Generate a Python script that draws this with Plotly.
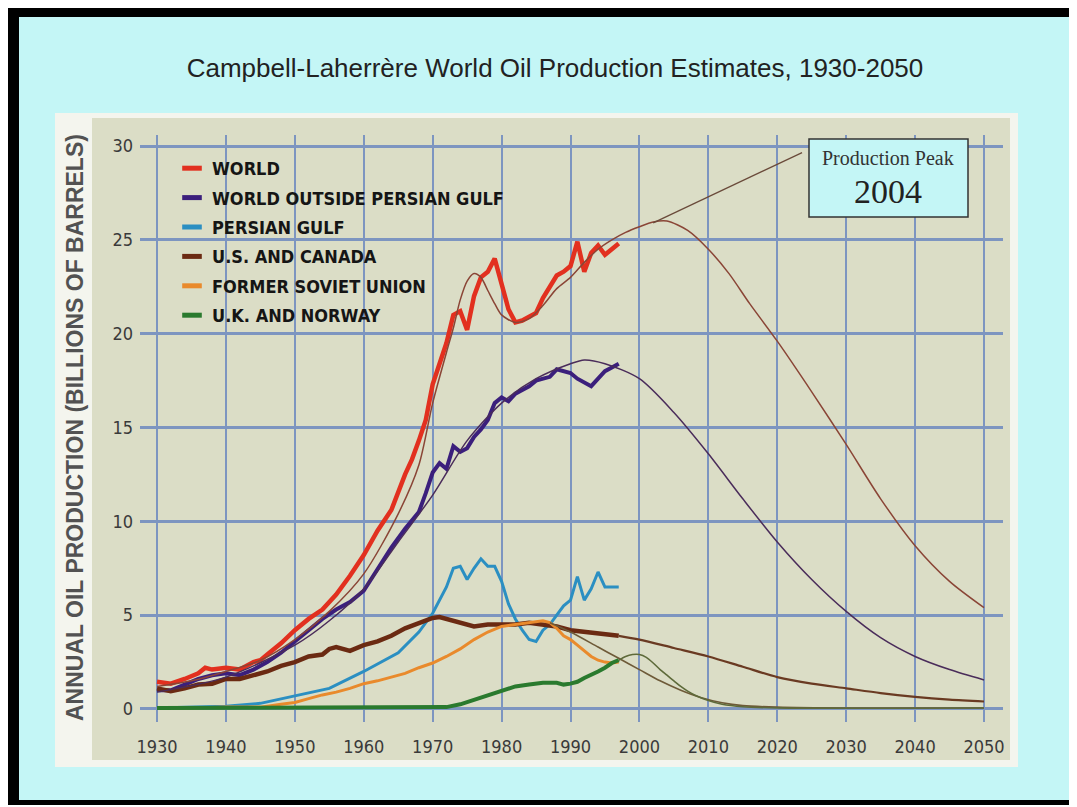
import plotly.graph_objects as go

world_years = [1930, 1932, 1934, 1936, 1937, 1938, 1940, 1942, 1944, 1945, 1946, 1948, 1950, 1952, 1954, 1956,
               1958, 1960, 1962, 1964, 1966, 1967, 1968, 1969, 1970, 1971, 1972, 1973, 1974, 1975, 1976, 1977,
               1978, 1979, 1980, 1981, 1982, 1983, 1984, 1985, 1986, 1987, 1988, 1989, 1990, 1991, 1992, 1993,
               1994, 1995, 1996, 1997]
world_vals = [1.45, 1.35, 1.6, 1.9, 2.2, 2.1, 2.2, 2.1, 2.5, 2.6, 2.9, 3.5, 4.2, 4.8, 5.3, 6.1,
              7.1, 8.2, 9.5, 10.6, 12.5, 13.3, 14.3, 15.4, 17.3, 18.4, 19.5, 21.0, 21.2, 20.2, 22.0, 23.0,
              23.3, 24.0, 22.7, 21.3, 20.6, 20.7, 20.9, 21.1, 21.9, 22.5, 23.1, 23.3, 23.6, 24.9, 23.3, 24.3,
              24.7, 24.2, 24.5, 24.8]

wopg_years = [1930, 1932, 1934, 1936, 1938, 1940, 1942, 1944, 1946, 1948, 1950, 1952, 1954, 1956, 1958, 1960,
              1962, 1964, 1966, 1968, 1969, 1970, 1971, 1972, 1973, 1974, 1975, 1976, 1977, 1978, 1979, 1980,
              1981, 1982, 1983, 1984, 1985, 1986, 1987, 1988, 1989, 1990, 1991, 1992, 1993, 1994, 1995, 1996, 1997]
wopg_vals = [1.0, 1.0, 1.3, 1.6, 1.8, 1.9, 1.8, 2.1, 2.5, 3.0, 3.6, 4.2, 4.8, 5.3, 5.7, 6.3,
             7.5, 8.6, 9.6, 10.5, 11.5, 12.6, 13.1, 12.8, 14.0, 13.7, 13.9, 14.5, 14.9, 15.4, 16.3, 16.6,
             16.4, 16.8, 17.0, 17.2, 17.5, 17.6, 17.7, 18.1, 18.0, 17.9, 17.6, 17.4, 17.2, 17.6, 18.0, 18.2, 18.4]

pg_years = [1930, 1935, 1940, 1945, 1950, 1955, 1960, 1965, 1968, 1970, 1972, 1973, 1974, 1975, 1976, 1977,
            1978, 1979, 1980, 1981, 1982, 1983, 1984, 1985, 1986, 1987, 1988, 1989, 1990, 1991, 1992, 1993,
            1994, 1995, 1996, 1997]
pg_vals = [0.05, 0.1, 0.15, 0.3, 0.7, 1.1, 2.0, 3.0, 4.1, 5.1, 6.5, 7.5, 7.6, 6.9, 7.5, 8.0,
           7.6, 7.6, 6.8, 5.6, 4.8, 4.2, 3.7, 3.6, 4.2, 4.5, 5.0, 5.5, 5.8, 7.05, 5.8, 6.4,
           7.3, 6.5, 6.5, 6.5]

usc_years = [1930, 1932, 1934, 1936, 1938, 1940, 1942, 1944, 1946, 1948, 1950, 1952, 1954, 1955, 1956, 1958,
             1960, 1962, 1964, 1966, 1968, 1970, 1971, 1972, 1974, 1976, 1978, 1980, 1982, 1984, 1986, 1988,
             1990, 1992, 1994, 1996, 1997]
usc_vals = [1.1, 0.95, 1.1, 1.3, 1.35, 1.6, 1.6, 1.8, 2.0, 2.3, 2.5, 2.8, 2.9, 3.2, 3.3, 3.1,
            3.4, 3.6, 3.9, 4.3, 4.6, 4.85, 4.9, 4.8, 4.6, 4.4, 4.5, 4.5, 4.5, 4.6, 4.5, 4.4,
            4.2, 4.1, 4.05, 3.95, 3.9]

fsu_years = [1930, 1935, 1940, 1945, 1948, 1950, 1952, 1954, 1956, 1958, 1960, 1962, 1964, 1966, 1968, 1970,
             1972, 1974, 1976, 1978, 1980, 1982, 1984, 1986, 1987, 1988, 1989, 1990, 1991, 1992, 1993, 1994,
             1995, 1996, 1997]
fsu_vals = [0.05, 0.05, 0.1, 0.1, 0.25, 0.35, 0.55, 0.75, 0.9, 1.1, 1.35, 1.5, 1.7, 1.9, 2.2, 2.45,
            2.8, 3.2, 3.7, 4.1, 4.4, 4.5, 4.6, 4.7, 4.6, 4.3, 3.9, 3.7, 3.4, 3.1, 2.8, 2.6,
            2.5, 2.45, 2.5]

ukn_years = [1930, 1940, 1950, 1960, 1970, 1972, 1974, 1976, 1978, 1980, 1982, 1984, 1986, 1988, 1989, 1990,
             1991, 1992, 1993, 1994, 1995, 1996, 1997]
ukn_vals = [0.05, 0.05, 0.05, 0.05, 0.05, 0.1, 0.25, 0.5, 0.75, 1.0, 1.2, 1.3, 1.4, 1.4, 1.3, 1.35,
            1.45, 1.65, 1.8, 2.0, 2.2, 2.45, 2.6]

# Campbell-Laherrere fitted / forecast curves
world_fit_years = [1930, 1935, 1940, 1945, 1950, 1955, 1960, 1965, 1968, 1970, 1972, 1973, 1974, 1975, 1976,
                   1977, 1978, 1979, 1980, 1982, 1984, 1986, 1988, 1990, 1992, 1994, 1996, 1998, 2000, 2002,
                   2004, 2007, 2010, 2013, 2016, 2020, 2025, 2030, 2035, 2040, 2045, 2050]
world_fit_vals = [1.2, 1.5, 2.0, 2.6, 3.7, 5.2, 7.2, 10.4, 13.0, 16.3, 19.0, 20.3, 21.8, 22.8, 23.2,
                  23.0, 22.3, 21.6, 21.0, 20.6, 20.8, 21.5, 22.4, 23.0, 23.8, 24.5, 25.0, 25.4, 25.7, 25.95,
                  26.0, 25.5, 24.5, 23.2, 21.6, 19.6, 16.9, 14.1, 11.2, 8.7, 6.8, 5.4]

wopg_fit_years = [1930, 1940, 1950, 1955, 1960, 1965, 1970, 1975, 1980, 1985, 1990, 1992, 1995, 2000, 2005,
                  2010, 2015, 2020, 2025, 2030, 2035, 2040, 2045, 2050]
wopg_fit_vals = [0.9, 1.7, 3.4, 4.7, 6.4, 8.9, 11.4, 14.3, 16.3, 17.6, 18.4, 18.6, 18.4, 17.6, 15.8,
                 13.6, 11.2, 8.9, 6.9, 5.2, 3.8, 2.8, 2.1, 1.55]

usc_fit_years = [1997, 2000, 2005, 2010, 2015, 2020, 2025, 2030, 2035, 2040, 2045, 2050]
usc_fit_vals = [3.9, 3.7, 3.25, 2.8, 2.25, 1.7, 1.35, 1.1, 0.85, 0.65, 0.5, 0.4]

fsu_fit_years = [1987, 1990, 1994, 1997, 2000, 2003, 2006, 2009, 2012, 2015, 2020, 2030, 2050]
fsu_fit_vals = [4.6, 4.1, 3.3, 2.7, 2.1, 1.5, 1.0, 0.6, 0.33, 0.18, 0.1, 0.05, 0.05]

ukn_fit_years = [1997, 1998, 1999, 2000, 2001, 2002, 2003, 2004, 2005, 2006, 2007, 2008, 2010, 2012, 2015,
                 2020, 2050]
ukn_fit_vals = [2.6, 2.8, 2.9, 2.9, 2.75, 2.45, 2.1, 1.8, 1.5, 1.2, 0.95, 0.75, 0.45, 0.25, 0.12,
                0.06, 0.05]

peak_line_years = [2002, 2023.6]
peak_line_vals = [25.9, 29.65]

legend_names = ['WORLD', 'WORLD OUTSIDE PERSIAN GULF', 'PERSIAN GULF', 'U.S. AND CANADA',
                'FORMER SOVIET UNION', 'U.K. AND NORWAY']
colors = ['#e2301f', '#3b1f7c', '#2b8fc2', '#6b2a12', '#e98a2c', '#2a7a2e']

x_ticks = [1930, 1940, 1950, 1960, 1970, 1980, 1990, 2000, 2010, 2020, 2030, 2040, 2050]
y_ticks = [0, 5, 10, 15, 20, 25, 30]

# page geometry in screen pixels; the page body adds an 8px margin
OFF = 8
W, H = 1077 - OFF, 807 - OFF
L, R, T, B = 140, 1003, 135, 722


def px(p):
    return (p - L) / (R - L)


def py(p):
    return (B - p) / (B - T)


fig = go.Figure()

actual = [(world_years, world_vals, 4.5), (wopg_years, wopg_vals, 4), (pg_years, pg_vals, 3),
          (usc_years, usc_vals, 4.5), (fsu_years, fsu_vals, 3), (ukn_years, ukn_vals, 4)]
for i, (xs, ys, w) in enumerate(actual):
    fig.add_trace(go.Scatter(x=xs, y=ys, mode='lines', line=dict(color=colors[i], width=w),
                             showlegend=False, hoverinfo='skip'))

fits = [(world_fit_years, world_fit_vals, '#8a4536', 1.5), (wopg_fit_years, wopg_fit_vals, '#4a2c5a', 1.5),
        (usc_fit_years, usc_fit_vals, '#6a3a22', 2.2), (fsu_fit_years, fsu_fit_vals, '#6e5a38', 1.6),
        (ukn_fit_years, ukn_fit_vals, '#5e6a3a', 1.6)]
for xs, ys, c, w in fits:
    fig.add_trace(go.Scatter(x=xs, y=ys, mode='lines', line=dict(color=c, width=w, shape='spline', smoothing=0.8),
                             showlegend=False, hoverinfo='skip'))

fig.add_trace(go.Scatter(x=peak_line_years, y=peak_line_vals, mode='lines',
                         line=dict(color='#6a4a3a', width=1.3), showlegend=False, hoverinfo='skip'))

# legend entries: short thick dashes like the original
for name, c in zip(legend_names, colors):
    fig.add_trace(go.Scatter(x=[None], y=[None], mode='markers', name=name, legendgroup=name,
                             marker=dict(symbol='line-ew', size=14, color=c, line=dict(color=c, width=5.5))))

shapes = [
    dict(type='rect', xref='paper', yref='paper', x0=px(6), x1=px(1090), y0=py(805), y1=py(6),
         fillcolor='black', line_width=0, layer='below'),
    dict(type='rect', xref='paper', yref='paper', x0=px(19), x1=px(1077), y0=py(800), y1=py(17),
         fillcolor='#c4f6f6', line_width=0, layer='below'),
    dict(type='rect', xref='paper', yref='paper', x0=px(55), x1=px(1018), y0=py(767), y1=py(113),
         fillcolor='#f4f5ee', line_width=0, layer='below'),
    dict(type='rect', xref='paper', yref='paper', x0=px(92), x1=px(1010), y0=py(760), y1=py(118),
         fillcolor='#dbddc6', line_width=0, layer='below'),
    dict(type='rect', xref='paper', yref='paper', x0=px(809), x1=px(968), y0=py(217), y1=py(139),
         fillcolor='#c4f6f6', line=dict(color='#333333', width=1.5), layer='above'),
]

annotations = [
    dict(text='ANNUAL OIL PRODUCTION (BILLIONS OF BARRELS)', xref='paper', yref='paper', x=px(75), y=py(428),
         xanchor='center', yanchor='middle', textangle=-90, showarrow=False,
         font=dict(family='Liberation Sans, Arial, sans-serif', size=23, color='#525252', weight='bold')),
    dict(text='Production Peak', xref='paper', yref='paper', x=px(888), y=py(158), xanchor='center',
         yanchor='middle', showarrow=False,
         font=dict(family='Liberation Serif, Times New Roman, serif', size=20, color='#333333')),
    dict(text='2004', xref='paper', yref='paper', x=px(888), y=py(192), xanchor='center', yanchor='middle',
         showarrow=False, font=dict(family='Liberation Serif, Times New Roman, serif', size=34, color='#222222')),
]

tick_font = dict(family='DejaVu Sans Condensed, Liberation Sans Narrow, sans-serif', size=18, color='#3a3a3a')

fig.update_layout(
    width=W, height=H,
    margin=dict(l=L - OFF, r=W - (R - OFF), t=T - OFF, b=H - (B - OFF)),
    paper_bgcolor='white', plot_bgcolor='rgba(0,0,0,0)',
    title=dict(text='Campbell-Laherrère World Oil Production Estimates, 1930-2050', x=(555 - OFF) / W,
               y=1 - (68 - OFF) / H, xanchor='center', yanchor='middle',
               font=dict(family='Liberation Sans, Arial, sans-serif', size=26, color='#222222')),
    xaxis=dict(range=[1927.533, 2052.757], tickvals=x_ticks, showgrid=True, gridcolor='#7d95c0', gridwidth=2,
               zeroline=False, showline=False, ticks='', ticklabelstandoff=12, tickfont=tick_font),
    yaxis=dict(range=[-0.693, 30.586], tickvals=y_ticks, showgrid=True, gridcolor='#7d95c0', gridwidth=3,
               zeroline=False, showline=False, ticks='', ticklabelstandoff=6, tickfont=tick_font),
    legend=dict(x=px(172), y=py(150), xanchor='left', yanchor='top', bgcolor='rgba(0,0,0,0)',
                tracegroupgap=3, itemwidth=30,
                font=dict(family='DejaVu Sans Condensed, Liberation Sans Narrow, sans-serif',
                          size=18, color='#151515', weight='bold')),
    shapes=shapes,
    annotations=annotations,
)

fig.write_html("out.html")
